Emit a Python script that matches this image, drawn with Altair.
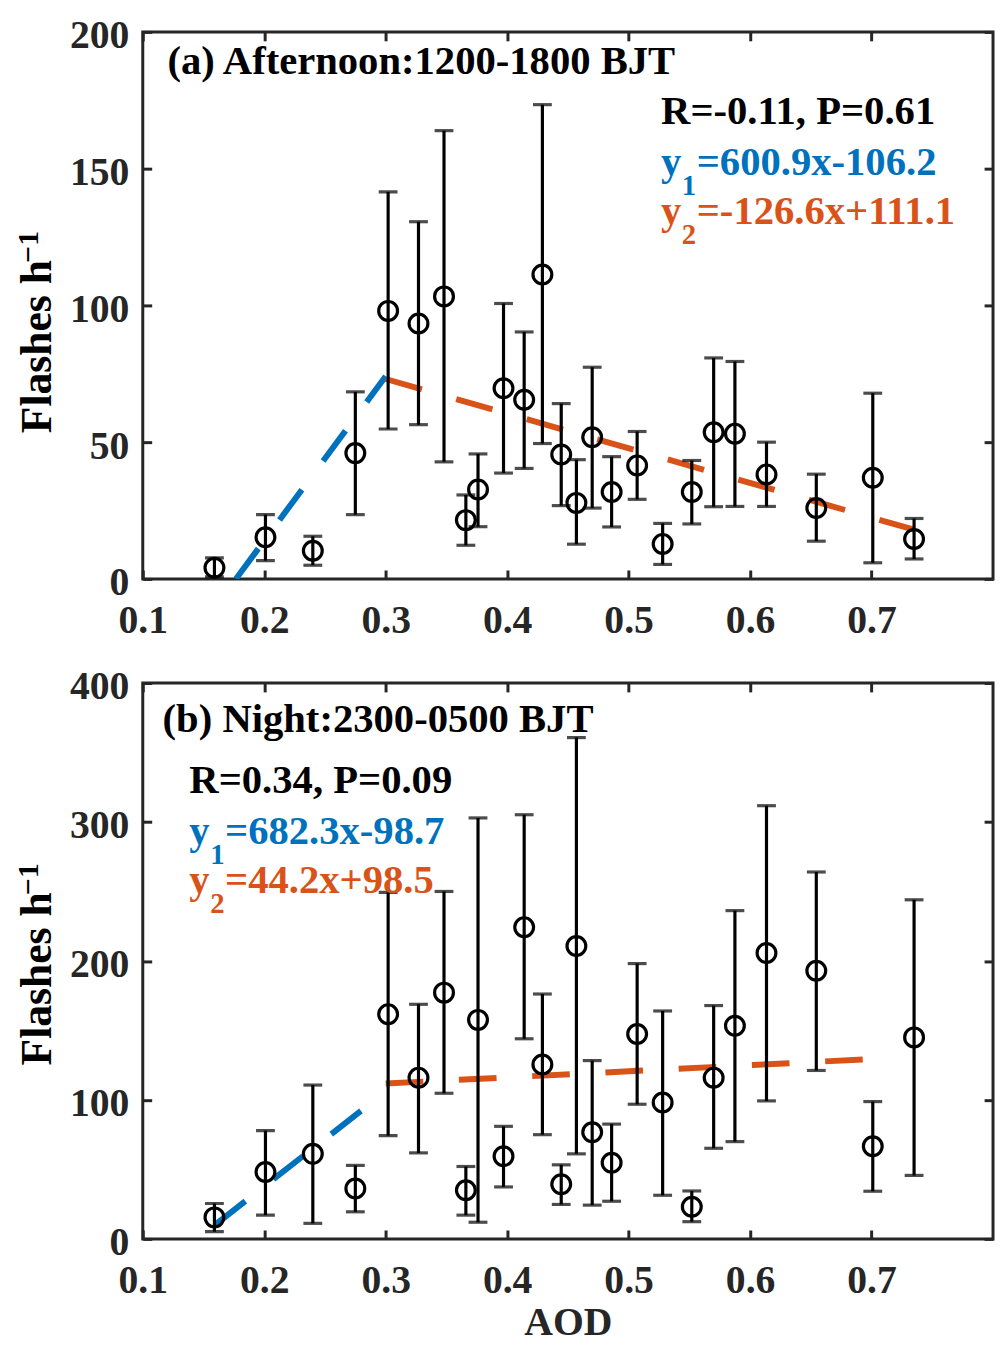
import altair as alt
import pandas as pd

FONT = "Liberation Serif"
BLUE = "#0072BD"
ORANGE = "#D95319"
AXC = "#262626"

# AOD bin centres (same in both panels)
aod = [0.159, 0.201, 0.240, 0.275, 0.302, 0.327, 0.348, 0.366, 0.376, 0.397, 0.414, 0.429,
       0.4445, 0.457, 0.470, 0.486, 0.507, 0.528, 0.552, 0.570, 0.5875, 0.6135, 0.6545, 0.701, 0.735]

# (a) afternoon flashes: mean and error-bar ends
a_mean = [4.1, 15.2, 10.3, 46.0, 98.0, 93.4, 103.3, 21.5, 32.7, 69.7, 65.5, 111.3,
          45.5, 27.8, 51.8, 31.8, 41.5, 12.8, 31.8, 53.6, 53.1, 38.2, 25.9, 37.0, 14.6]
a_low = [0.8, 6.7, 5.0, 23.5, 54.8, 56.4, 42.8, 12.3, 19.1, 38.7, 40.4, 49.5,
         26.8, 12.7, 25.9, 19.0, 29.1, 5.3, 20.1, 26.4, 26.5, 26.5, 13.8, 5.9, 7.3]
a_high = [7.7, 23.5, 15.6, 68.4, 141.5, 130.6, 163.9, 30.7, 45.7, 100.7, 90.3, 173.4,
          64.1, 43.6, 77.4, 44.7, 53.9, 20.3, 43.3, 80.8, 79.5, 50.0, 38.3, 67.9, 22.1]

# (b) night flashes
b_mean = [15.5, 48.1, 61.2, 36.2, 161.7, 116.0, 177.2, 35.0, 157.6, 59.5, 224.3, 125.5,
          39.3, 210.7, 76.7, 54.8, 147.4, 98.1, 23.1, 116.0, 153.3, 205.7, 192.9, 66.7, 145.0]
b_low = [5.2, 17.1, 11.2, 19.5, 74.3, 61.9, 104.8, 17.1, 12.0, 37.4, 144.0, 75.0,
         24.8, 61.2, 24.3, 27.1, 96.9, 31.4, 12.4, 65.2, 70.0, 99.3, 121.2, 34.3, 45.7]
b_high = [25.5, 77.9, 110.7, 52.9, 249.3, 168.8, 250.0, 52.1, 302.9, 81.0, 305.2, 176.2,
          53.3, 360.7, 128.3, 82.6, 198.1, 164.0, 34.5, 167.9, 236.2, 311.7, 264.0, 98.8, 244.0]

# fitted segments (end points)
a_fit1_x, a_fit1_y = [0.1767, 0.30], [0.0, 74.1]
a_fit2_x, a_fit2_y = [0.30, 0.735], [73.1, 18.0]
b_fit1_x, b_fit1_y = [0.16, 0.30], [10.5, 106.0]
b_fit2_x, b_fit2_y = [0.30, 0.70], [111.8, 129.4]

x_ticks = [0.1, 0.2, 0.3, 0.4, 0.5, 0.6, 0.7]
a_yticks = [0, 50, 100, 150, 200]
b_yticks = [0, 100, 200, 300, 400]

a_title = "(a) Afternoon:1200-1800 BJT"
a_stats = "R=-0.11, P=0.61"
a_eq1, a_eq2 = "=600.9x-106.2", "=-126.6x+111.1"
b_title = "(b) Night:2300-0500 BJT"
b_stats = "R=0.34, P=0.09"
b_eq1, b_eq2 = "=682.3x-98.7", "=44.2x+98.5"

W = 858
FS = 40   # tick labels
TS = 41   # annotations
XS = alt.Scale(domain=[0.1, 0.8], nice=False, zero=False)


def label(s, x, y, color="black", size=TS, angle=0):
    return alt.Chart(pd.DataFrame({"t": [s]})).mark_text(
        x=x, y=y, align="left", baseline="alphabetic", font=FONT, fontWeight="bold",
        fontSize=size, color=color, angle=angle
    ).encode(text="t:N")


def tick_axis(orient, values, show_labels, **kw):
    # ticks pointing inwards: axis pulled 9px inside, ticks drawn back out to the frame
    return alt.Axis(orient=orient, values=values, offset=-9, tickSize=9, tickWidth=3,
                    tickColor=AXC, domain=False, grid=False, labels=show_labels,
                    labelFont=FONT, labelFontWeight="bold", labelFontSize=FS, labelColor=AXC,
                    titleFont=FONT, titleFontWeight="bold", titleFontSize=FS, titleColor=AXC,
                    **kw)


def panel(mean, low, high, f1, f2, ymax, yticks, h, notes, ytitle_y, xtitle=None):
    df = pd.DataFrame({"aod": aod, "mean": mean, "low": low, "high": high})
    ys = alt.Scale(domain=[0, ymax], nice=False)
    base = alt.Chart(df)

    xb = tick_axis("bottom", x_ticks, True, format=".1f", labelPadding=22, labelFlush=False,
                   title=xtitle, titlePadding=2)
    yl = tick_axis("left", yticks, True, labelPadding=14, labelOffset=4, title=None)
    xt = tick_axis("top", x_ticks, False, title=None)
    yr = tick_axis("right", yticks, False, title=None)

    bars = base.mark_rule(color="black", strokeWidth=3.2).encode(
        x=alt.X("aod:Q", scale=XS, axis=xb),
        y=alt.Y("low:Q", scale=ys, axis=yl),
        y2="high:Q",
    )
    caps_lo = base.mark_tick(orient="horizontal", size=19, thickness=3.2, color="black").encode(
        x=alt.X("aod:Q", scale=XS, axis=None), y=alt.Y("low:Q", scale=ys, axis=None))
    caps_hi = base.mark_tick(orient="horizontal", size=19, thickness=3.2, color="black").encode(
        x=alt.X("aod:Q", scale=XS, axis=None), y=alt.Y("high:Q", scale=ys, axis=None))
    pts = base.mark_point(shape="circle", size=360, strokeWidth=3.2, color="black",
                          filled=False, opacity=1).encode(
        x=alt.X("aod:Q", scale=XS, axis=xt),
        y=alt.Y("mean:Q", scale=ys, axis=yr),
    )

    def fit(xy, color):
        d = pd.DataFrame({"x": xy[0], "y": xy[1]})
        return alt.Chart(d).mark_line(color=color, strokeWidth=6, strokeDash=[38, 36],
                                      clip=True).encode(
            x=alt.X("x:Q", scale=XS, axis=None), y=alt.Y("y:Q", scale=ys, axis=None))

    layers = [fit(f1, BLUE), fit(f2, ORANGE), bars, caps_lo, caps_hi, pts]
    layers += notes
    layers += [label("Flashes h", -93, ytitle_y, angle=270, size=44),
               label("\u22121", -106, ytitle_y - 172, size=30, angle=270)]
    return alt.layer(*layers).resolve_axis(x="independent", y="independent").properties(
        width=W, height=h)


def eq_block(x, y, stats, eq1, eq2):
    return [
        label(stats, x, y),
        label("y", x, y + 51, BLUE), label("1", x + 21, y + 72, BLUE, size=29),
        label(eq1, x + 36, y + 51, BLUE),
        label("y", x, y + 101, ORANGE), label("2", x + 21, y + 121, ORANGE, size=29),
        label(eq2, x + 36, y + 101, ORANGE),
    ]


top = panel(a_mean, a_low, a_high, (a_fit1_x, a_fit1_y), (a_fit2_x, a_fit2_y), 200, a_yticks,
            552, [label(a_title, 25, 42)] + eq_block(523, 93, a_stats, a_eq1, a_eq2), 405)
bottom = panel(b_mean, b_low, b_high, (b_fit1_x, b_fit1_y), (b_fit2_x, b_fit2_y), 400,
               b_yticks, 561, [label(b_title, 20, 49)] + eq_block(47, 111, b_stats, b_eq1, b_eq2),
               386, xtitle="AOD")

chart = alt.vconcat(top, bottom, spacing=23).properties(
    padding={"left": 4, "top": 0, "right": 0, "bottom": 2}, background="white"
).configure_view(stroke=AXC, strokeWidth=3)

chart.save("out.html", embed_options={"renderer": "svg", "actions": False})
